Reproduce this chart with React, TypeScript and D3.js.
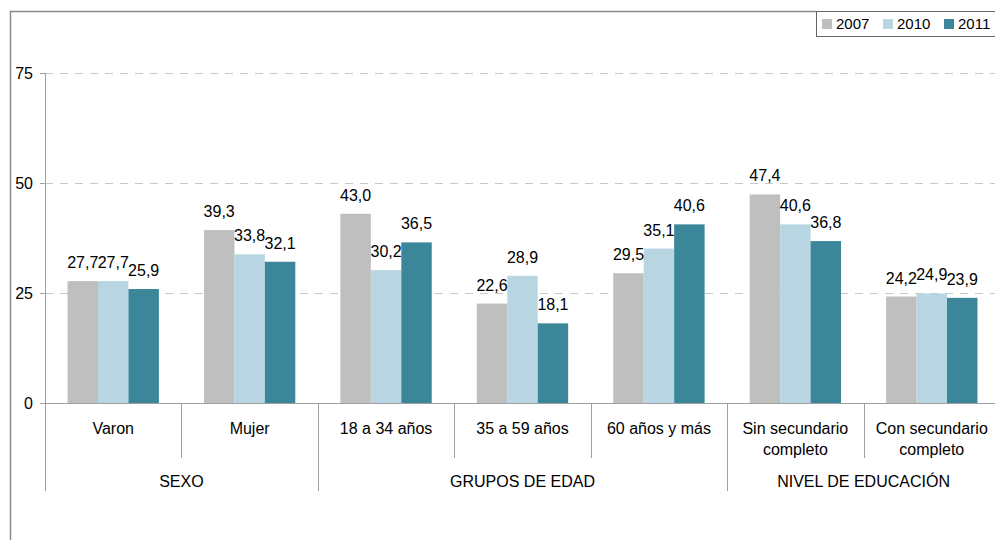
import { useEffect, useRef } from 'react';
import * as d3 from 'd3';

const categories = [
  ['Varon'],
  ['Mujer'],
  ['18 a 34 años'],
  ['35 a 59 años'],
  ['60 años y más'],
  ['Sin secundario', 'completo'],
  ['Con secundario', 'completo'],
];
const groups = [
  { name: 'SEXO', from: 0, to: 2 },
  { name: 'GRUPOS DE EDAD', from: 2, to: 5 },
  { name: 'NIVEL DE EDUCACIÓN', from: 5, to: 7 },
];
const years = ['2007', '2010', '2011'];
const values2007 = [27.7, 39.3, 43.0, 22.6, 29.5, 47.4, 24.2];
const values2010 = [27.7, 33.8, 30.2, 28.9, 35.1, 40.6, 24.9];
const values2011 = [25.9, 32.1, 36.5, 18.1, 40.6, 36.8, 23.9];
const yTicks = [0, 25, 50, 75];
const colors = ['#bfbfbf', '#b7d6e1', '#3b8699'];

const App = () => {
  const svgRef = useRef<SVGSVGElement>(null);

  useEffect(() => {
    const svg = d3.select(svgRef.current);
    svg.selectAll('*').remove();

    const width = 995;
    const height = 540;
    const left = 45;
    const right = 1000;
    const font = 'Liberation Sans, Arial, sans-serif';
    const fs = 16;

    const series = [values2007, values2010, values2011];

    const x = d3.scaleBand<number>()
      .domain(d3.range(categories.length))
      .range([left, right])
      .paddingInner(0)
      .paddingOuter(0);
    const xInner = d3.scaleBand<number>()
      .domain(d3.range(years.length))
      .range([0, x.bandwidth()])
      .paddingOuter(0.74)
      .paddingInner(0);
    const y = d3.scaleLinear().domain([0, 75]).range([403, 73]);

    // frame
    svg.append('path')
      .attr('d', `M10.5,540 V11.5 H816`)
      .attr('fill', 'none')
      .attr('stroke', '#8c8c8c')
      .attr('stroke-width', 1.5);

    // grid
    svg.append('g')
      .selectAll('line')
      .data(yTicks.filter(d => d > 0))
      .join('line')
      .attr('x1', left)
      .attr('x2', right)
      .attr('y1', d => y(d) + 0.5)
      .attr('y2', d => y(d) + 0.5)
      .attr('stroke', '#c8c8c8')
      .attr('stroke-dasharray', '8,7');

    // y axis
    const yAxis = svg.append('g');
    yAxis.append('line')
      .attr('x1', left + 0.5).attr('x2', left + 0.5)
      .attr('y1', y(75)).attr('y2', y(0))
      .attr('stroke', '#a0a0a0');
    yAxis.selectAll('line.tick')
      .data(yTicks)
      .join('line')
      .attr('class', 'tick')
      .attr('x1', left - 5).attr('x2', left)
      .attr('y1', d => y(d) + 0.5).attr('y2', d => y(d) + 0.5)
      .attr('stroke', '#a0a0a0');
    yAxis.selectAll('text')
      .data(yTicks)
      .join('text')
      .attr('x', left - 12)
      .attr('y', d => y(d))
      .attr('dy', '0.35em')
      .attr('text-anchor', 'end')
      .attr('font-family', font)
      .attr('font-size', fs)
      .attr('fill', '#000')
      .text(d => d);

    // bars
    const barG = svg.append('g');
    series.forEach((vals, si) => {
      barG.append('g')
        .selectAll('rect')
        .data(vals)
        .join('rect')
        .attr('x', (d, i) => (x(i) as number) + (xInner(si) as number))
        .attr('y', d => y(d))
        .attr('width', xInner.bandwidth())
        .attr('height', d => y(0) - y(d))
        .attr('fill', colors[si]);
    });

    // value labels
    series.forEach((vals, si) => {
      barG.append('g')
        .selectAll('text')
        .data(vals)
        .join('text')
        .attr('x', (d, i) => (x(i) as number) + (xInner(si) as number) + xInner.bandwidth() / 2)
        .attr('y', d => y(d) - 13)
        .attr('text-anchor', 'middle')
        .attr('font-family', font)
        .attr('font-size', fs)
        .attr('fill', '#000')
        .text(d => d3.format('.1f')(d).replace('.', ','));
    });

    // x axis
    svg.append('line')
      .attr('x1', left - 5).attr('x2', right)
      .attr('y1', y(0) + 0.5).attr('y2', y(0) + 0.5)
      .attr('stroke', '#a0a0a0');

    const groupEdges = new Set(groups.flatMap(g => [g.from, g.to]));
    svg.append('g')
      .selectAll('line')
      .data(d3.range(categories.length + 1))
      .join('line')
      .attr('x1', i => Math.round(left + i * x.bandwidth()) + 0.5)
      .attr('x2', i => Math.round(left + i * x.bandwidth()) + 0.5)
      .attr('y1', y(0))
      .attr('y2', i => groupEdges.has(i) ? 491 : 458)
      .attr('stroke', '#a0a0a0');

    svg.append('g')
      .selectAll('text')
      .data(categories)
      .join('text')
      .attr('x', (d, i) => (x(i) as number) + x.bandwidth() / 2)
      .attr('y', 434)
      .attr('text-anchor', 'middle')
      .attr('font-family', font)
      .attr('font-size', fs)
      .attr('fill', '#000')
      .selectAll('tspan')
      .data(d => d)
      .join('tspan')
      .attr('x', function () {
        return (this.parentNode as SVGTextElement).getAttribute('x');
      })
      .attr('dy', (d, i) => i === 0 ? 0 : 21)
      .text(d => d);

    svg.append('g')
      .selectAll('text')
      .data(groups)
      .join('text')
      .attr('x', d => left + (d.from + d.to) / 2 * x.bandwidth())
      .attr('y', 487)
      .attr('text-anchor', 'middle')
      .attr('font-family', font)
      .attr('font-size', fs)
      .attr('fill', '#000')
      .text(d => d.name);

    // legend
    const legend = svg.append('g');
    legend.append('rect')
      .attr('x', 816.5).attr('y', 11.5)
      .attr('width', 200).attr('height', 25)
      .attr('fill', '#fff')
      .attr('stroke', '#666');
    const item = legend.selectAll('g.item')
      .data(years)
      .join('g')
      .attr('class', 'item')
      .attr('transform', (d, i) => `translate(${822 + i * 61},0)`);
    item.append('rect')
      .attr('x', 0).attr('y', 19)
      .attr('width', 10).attr('height', 10)
      .attr('fill', (d, i) => colors[i]);
    item.append('text')
      .attr('x', 14).attr('y', 24)
      .attr('dy', '0.35em')
      .attr('font-family', font)
      .attr('font-size', 15)
      .attr('fill', '#000')
      .text(d => d);

    svg.attr('width', width).attr('height', height);
  }, []);

  return (
    <svg ref={svgRef} width={995} height={540}
      style={{ position: 'absolute', left: 0, top: 0, background: '#fff' }} />
  );
};

export default App;
